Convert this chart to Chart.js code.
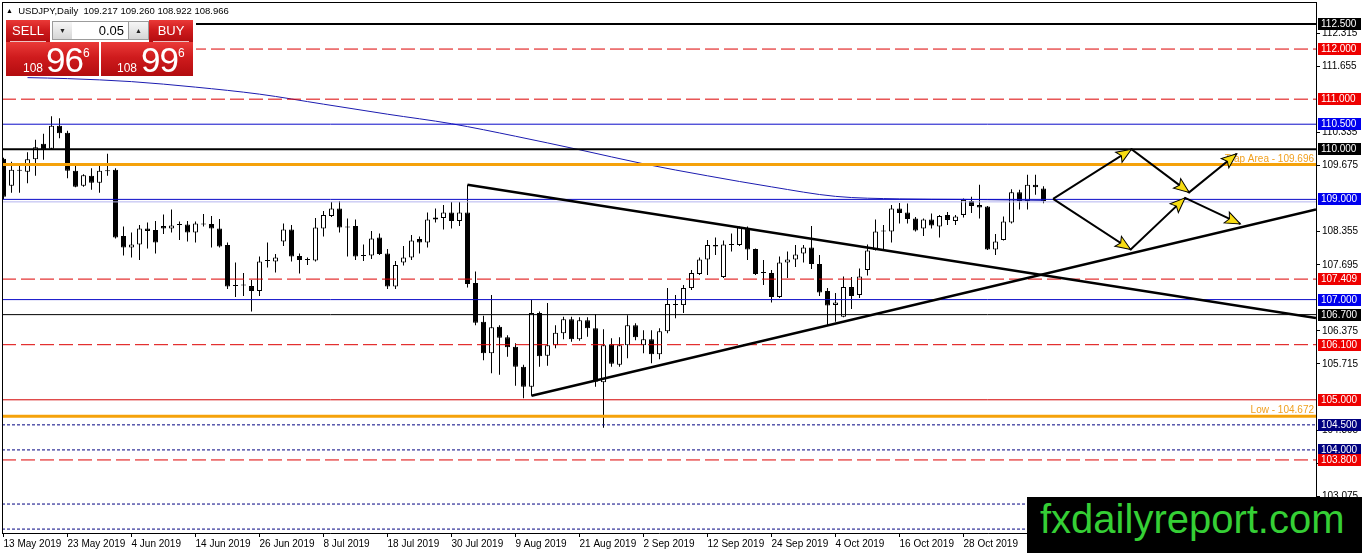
<!DOCTYPE html>
<html>
<head>
<meta charset="utf-8">
<title>USDJPY Daily</title>
<script src="https://cdn.jsdelivr.net/npm/chart.js@4.4.1/dist/chart.umd.min.js"></script>
<style>
  html, body { margin: 0; padding: 0; background: #fff; overflow: hidden; }
  #wrap { position: relative; width: 1362px; height: 553px; font-family: "Liberation Sans", Arial, sans-serif; }
  #c { position: absolute; left: 0; top: 0; }
  #panelBg { position: absolute; left: 3px; top: 17px; width: 193px; height: 60px; background: #fff; }
  #title { position: absolute; left: 6px; top: 6px; font-size: 9.5px; line-height: 10px; white-space: pre; color: #000; }
  #title .tri { font-size: 7px; position: relative; top: -1px; }
  .red { background: linear-gradient(to bottom, #ea3a38 0%, #cf1b1d 45%, #b20c0f 100%); color: #fff; position: absolute; }
  .hdr { height: 22px; line-height: 21px; text-align: center; font-size: 13px; }
  .hdr .sep { position: absolute; left: 4px; right: 4px; bottom: 0; height: 1px; background: rgba(255,255,255,0.75); }
  #sellHdr { left: 6px; top: 20px; width: 44px; }
  #buyHdr { left: 149px; top: 20px; width: 44px; }
  .btn { position: absolute; top: 21px; width: 19px; height: 17px; border: 1px solid #9c9c9c;
         background: linear-gradient(to bottom, #f6f6f6, #d6d6d6); font-size: 7px; line-height: 17px; text-align: center; color: #222; }
  #lotDown { left: 52px; }
  #lotUp { left: 128px; }
  #lot { position: absolute; left: 72px; top: 21px; width: 52px; height: 17px; border-top: 1px solid #9c9c9c; border-bottom: 1px solid #9c9c9c;
         background: #fff; font-size: 13px; line-height: 18px; text-align: right; padding-right: 4px; color: #000; }
  .px { top: 42px; height: 34px; }
  #sellPx { left: 6px; width: 93px; }
  #buyPx { left: 101px; width: 92px; }
  .px span { position: absolute; white-space: pre; }
  .p3 { font-size: 12px; line-height: 12px; top: 20px; }
  .p2 { font-size: 35px; line-height: 35px; top: 0px; letter-spacing: -1px; }
  .p1 { font-size: 12px; line-height: 12px; top: 5px; }
  #brand { position: absolute; left: 1027px; top: 497px; width: 335px; height: 56px; background: #000; }
  #brand span { position: absolute; left: 13px; top: 2px; font-size: 40px; line-height: 40px; color: #35cf35; white-space: pre; }
</style>
</head>
<body>
<div id="wrap">
  <canvas id="c" width="1362" height="553"></canvas>
  <div id="panelBg"></div>
  <div id="title"><span class="tri">&#9650;</span>  USDJPY,Daily  109.217 109.260 108.922 108.966</div>
  <div class="red hdr" id="sellHdr">SELL<div class="sep"></div></div>
  <div class="btn" id="lotDown">&#9660;</div>
  <div id="lot">0.05</div>
  <div class="btn" id="lotUp">&#9650;</div>
  <div class="red hdr" id="buyHdr">BUY<div class="sep"></div></div>
  <div class="red px" id="sellPx"><span class="p3" style="left:17px">108</span><span class="p2" style="left:40px">96</span><span class="p1" style="left:77px">6</span></div>
  <div class="red px" id="buyPx"><span class="p3" style="left:16px">108</span><span class="p2" style="left:40px">99</span><span class="p1" style="left:77px">6</span></div>
  <div id="brand"><span>fxdailyreport.com</span></div>
</div>
<script>
// daily candles, 13 May 2019 .. 11 Nov 2019 (one per weekday)
var opens = [
  109.81, 109.27, 109.59, 109.55, 109.80, 110.11, 110.01, 110.47, 110.33, 109.57,
  109.27, 109.47, 109.33, 109.58, 109.59, 108.27, 108.04, 108.10, 108.42, 108.39,
  108.47, 108.42, 108.50, 108.50, 108.34, 108.51, 108.51, 108.42, 108.09, 107.28,
  107.28, 107.27, 107.17, 107.77, 107.76, 108.16, 108.40, 107.87, 107.79, 107.78,
  108.42, 108.67, 108.82, 108.45, 108.47, 107.87, 107.88, 108.24, 107.92, 107.26,
  107.74, 107.84, 108.21, 108.14, 108.60, 108.63, 108.74, 108.57, 108.74, 107.33,
  106.56, 105.93, 106.46, 106.25, 106.06, 105.66, 105.26, 106.73, 105.88, 106.09,
  106.33, 106.61, 106.21, 106.59, 106.43, 105.35, 106.11, 105.70, 106.09, 106.49,
  106.09, 106.21, 105.91, 106.37, 106.90, 106.89, 107.23, 107.51, 107.80, 108.09,
  107.45, 108.09, 108.09, 108.42, 108.01, 107.54, 107.53, 107.05, 107.74, 107.80,
  107.92, 108.04, 107.71, 107.17, 106.89, 106.66, 107.25, 107.09, 107.59, 107.99,
  108.36, 108.36, 108.82, 108.74, 108.62, 108.42, 108.60, 108.46, 108.69, 108.57,
  108.69, 108.97, 108.89, 108.86, 108.00, 108.19, 108.54, 109.14, 108.97, 109.29,
  109.217
];
var highs = [
  109.83, 109.75, 109.71, 109.94, 110.19, 110.31, 110.66, 110.62, 110.37, 109.72,
  109.50, 109.62, 109.69, 109.91, 109.62, 108.46, 108.34, 108.49, 108.54, 108.57,
  108.70, 108.80, 108.56, 108.57, 108.56, 108.71, 108.67, 108.61, 108.14, 107.74,
  107.53, 107.39, 107.86, 108.14, 107.91, 108.52, 108.49, 107.92, 107.84, 108.63,
  108.77, 108.95, 108.97, 108.62, 108.60, 108.10, 108.37, 108.32, 108.01, 107.77,
  108.07, 108.29, 108.26, 108.74, 108.82, 108.89, 108.95, 108.95, 109.29, 107.56,
  106.68, 107.09, 106.49, 106.29, 106.13, 105.70, 106.99, 106.76, 106.93, 106.49,
  106.66, 106.66, 106.65, 106.65, 106.71, 106.41, 106.23, 106.25, 106.69, 106.53,
  106.39, 106.39, 106.43, 107.23, 107.09, 107.29, 107.59, 107.84, 108.19, 108.24,
  108.18, 108.32, 108.46, 108.46, 108.02, 107.79, 107.59, 107.86, 107.96, 108.09,
  108.09, 108.47, 107.89, 107.23, 107.13, 107.46, 107.45, 107.62, 108.10, 108.60,
  108.49, 108.89, 108.93, 108.92, 108.65, 108.62, 108.72, 108.69, 108.75, 108.69,
  109.02, 109.05, 109.29, 108.87, 108.31, 108.66, 109.20, 109.19, 109.49, 109.49,
  109.260
];
var lows = [
  109.01, 109.13, 109.13, 109.32, 109.47, 109.79, 110.00, 110.22, 109.42, 109.24,
  109.25, 109.19, 109.13, 109.47, 108.22, 107.88, 107.84, 107.79, 108.02, 107.92,
  108.31, 108.34, 108.19, 108.16, 108.14, 108.46, 108.04, 108.04, 107.21, 107.05,
  107.07, 106.76, 107.07, 107.64, 107.54, 108.07, 107.76, 107.52, 107.69, 107.76,
  108.26, 108.65, 108.34, 107.86, 107.79, 107.77, 107.81, 107.89, 107.21, 107.21,
  107.68, 107.79, 107.92, 108.04, 108.54, 108.40, 108.42, 108.47, 107.24, 106.49,
  105.79, 105.53, 105.50, 105.86, 105.28, 105.03, 105.08, 105.66, 105.68, 106.03,
  106.21, 106.16, 106.18, 106.26, 105.26, 104.44, 105.66, 105.66, 105.83, 106.19,
  105.93, 105.73, 105.81, 106.33, 106.63, 106.73, 107.19, 107.49, 107.49, 107.89,
  107.43, 107.96, 108.07, 107.79, 107.49, 107.29, 106.94, 107.03, 107.43, 107.65,
  107.74, 107.61, 107.07, 106.49, 106.56, 106.65, 106.81, 107.03, 107.48, 107.98,
  107.99, 108.14, 108.52, 108.52, 108.36, 108.27, 108.42, 108.24, 108.49, 108.49,
  108.64, 108.73, 108.62, 107.99, 107.89, 108.18, 108.52, 108.80, 108.80, 109.09,
  108.922
];
var closes = [
  109.05, 109.59, 109.57, 109.80, 110.04, 110.00, 110.47, 110.32, 109.57, 109.25,
  109.48, 109.33, 109.57, 109.56, 108.24, 108.04, 108.10, 108.42, 108.37, 108.14,
  108.42, 108.48, 108.49, 108.34, 108.52, 108.50, 108.42, 108.06, 107.26, 107.27,
  107.28, 107.17, 107.76, 107.78, 107.84, 108.40, 107.86, 107.79, 107.80, 108.44,
  108.69, 108.82, 108.44, 108.44, 107.86, 107.88, 108.22, 107.91, 107.26, 107.69,
  107.84, 108.18, 108.14, 108.60, 108.64, 108.74, 108.57, 108.74, 107.31, 106.54,
  105.93, 106.45, 106.24, 106.05, 105.66, 105.26, 106.73, 105.87, 106.09, 106.34,
  106.61, 106.21, 106.59, 106.43, 105.36, 106.09, 105.72, 106.09, 106.49, 106.25,
  106.21, 105.91, 106.37, 106.91, 106.89, 107.23, 107.53, 107.80, 108.09, 108.06,
  108.10, 108.10, 108.44, 108.00, 107.51, 107.53, 107.05, 107.74, 107.80, 107.90,
  108.04, 107.71, 107.14, 106.88, 106.94, 107.25, 107.07, 107.46, 107.98, 108.36,
  108.37, 108.82, 108.73, 108.61, 108.38, 108.60, 108.48, 108.67, 108.59, 108.66,
  108.99, 108.87, 108.84, 108.00, 108.16, 108.56, 109.14, 108.97, 109.29, 109.24,
  108.966
];

// time axis labels (every 8th bar)
var dateTickBars = [0, 8, 16, 24, 32, 40, 48, 56, 64, 72, 80, 88, 96, 104, 112, 120];
var dateLabels = ['13 May 2019', '23 May 2019', '4 Jun 2019', '14 Jun 2019', '26 Jun 2019', '8 Jul 2019',
                  '18 Jul 2019', '30 Jul 2019', '9 Aug 2019', '21 Aug 2019', '2 Sep 2019', '12 Sep 2019',
                  '24 Sep 2019', '4 Oct 2019', '16 Oct 2019', '28 Oct 2019'];

// price axis ticks (the ones hidden behind tags are left out)
var priceTicks = [112.315, 111.655, 110.335, 109.675, 108.355, 107.695,
                  106.375, 105.715, 104.395, 103.735, 103.075];

// moving average (read at a few bars)
var maBars = [3, 8, 16, 24, 32, 40, 48, 56, 64, 72, 80, 88, 96, 104, 112, 120, 130];
var maValues = [111.43, 111.41, 111.35, 111.24, 111.10, 110.90, 110.70, 110.51, 110.26,
                109.99, 109.71, 109.47, 109.25, 109.06, 109.01, 109.00, 108.98];

// horizontal levels
var levels = [112.5, 112.0, 111.0, 110.5, 110.0, 109.696, 109.0, 108.95, 107.409, 107.0,
              106.7, 106.1, 105.0, 104.672, 104.5, 104.0, 103.8, 102.92, 102.42];
var levelKinds = ['black2', 'redDash', 'redDash', 'blue', 'black2', 'orange', 'blue', 'lavender', 'redDash', 'blue',
                  'black1', 'redDash', 'red', 'orange', 'navyDot', 'navyDot', 'redDash', 'navyDot', 'navyDot'];

// coloured price tags on the right axis
var tagLevels = [112.5, 112.0, 111.0, 110.5, 110.0, 109.0, 107.409, 107.0, 106.7, 106.1, 105.0, 104.5, 104.0, 103.8];
var tagKinds = ['black', 'red', 'red', 'blue', 'black', 'blue', 'red', 'blue', 'black', 'red', 'red', 'navy', 'navy', 'red'];

// trend lines (bar index, price)
var downTrendBars = [58, 164.06];
var downTrendPrices = [109.29, 106.63];
var upTrendBars = [66, 164.06];
var upTrendPrices = [105.08, 108.80];

// scenario arrows
var arrowUpBars = [131.2, 141.0, 148.2, 154.15];
var arrowUpPrices = [109.01, 110.00, 109.14, 109.91];
var arrowDownBars = [131.2, 140.9, 147.7, 154.6];
var arrowDownPrices = [109.01, 108.00, 109.03, 108.51];

// text notes
var noteTexts = ['Trap Area - 109.696', 'Low - 104.672'];
var notePrices = [109.696, 104.672];

var xMin = -0.1875, xMax = 164.0625;
var yMin = 102.342, yMax = 112.939;

var levelStyle = {
  black2:   { color: '#000000', width: 2, dash: [] },
  black1:   { color: '#000000', width: 1, dash: [] },
  redDash:  { color: '#dd0000', width: 1, dash: [14, 5] },
  red:      { color: '#d40000', width: 1, dash: [] },
  blue:     { color: '#0a0ac8', width: 1, dash: [] },
  lavender: { color: '#b4b4ee', width: 1, dash: [] },
  orange:   { color: '#f5a20a', width: 3, dash: [] },
  navyDot:  { color: '#000080', width: 1, dash: [3, 2] }
};
var tagColor = { black: '#000000', red: '#ee0000', blue: '#0000ee', navy: '#000080' };

function pairs(xs, ys) {
  return xs.map(function (x, i) { return { x: x, y: ys[i] }; });
}

var barIdx = opens.map(function (_, i) { return i; });
var datasets = [];

datasets.push({
  type: 'bar',
  data: barIdx.map(function (i) { return { x: i, y: [lows[i], highs[i]] }; }),
  backgroundColor: '#000',
  borderWidth: 0,
  maxBarThickness: 1,
  grouped: false,
  inflateAmount: 0,
  order: 11
});
datasets.push({
  type: 'bar',
  data: barIdx.map(function (i) { return { x: i, y: [opens[i], closes[i]] }; }),
  backgroundColor: function (ctx) {
    var i = ctx.dataIndex;
    return closes[i] > opens[i] + 0.005 ? '#fff' : '#000';
  },
  borderColor: '#000',
  borderWidth: 1,
  borderSkipped: false,
  maxBarThickness: 5,
  minBarLength: 1,
  grouped: false,
  inflateAmount: 0,
  order: 10
});

levels.forEach(function (v, i) {
  var s = levelStyle[levelKinds[i]];
  datasets.push({
    type: 'line',
    data: [{ x: xMin, y: v }, { x: xMax, y: v }],
    borderColor: s.color,
    borderWidth: s.width,
    borderDash: s.dash,
    pointRadius: 0,
    order: 5
  });
});

datasets.push({
  type: 'line',
  data: pairs(maBars, maValues),
  borderColor: '#1c1cb0',
  borderWidth: 1,
  pointRadius: 0,
  cubicInterpolationMode: 'monotone',
  order: 6
});

[[downTrendBars, downTrendPrices], [upTrendBars, upTrendPrices]].forEach(function (t) {
  datasets.push({
    type: 'line',
    data: pairs(t[0], t[1]),
    borderColor: '#000',
    borderWidth: 2.5,
    pointRadius: 0,
    order: 3
  });
});

[[arrowUpBars, arrowUpPrices], [arrowDownBars, arrowDownPrices]].forEach(function (a) {
  datasets.push({
    type: 'line',
    data: pairs(a[0], a[1]),
    borderColor: '#000',
    borderWidth: 2,
    pointRadius: 0,
    arrowPath: true,
    order: 1
  });
});

var notesPlugin = {
  id: 'notes',
  beforeDatasetsDraw: function (chart) {
    var ctx = chart.ctx, y = chart.scales.y, area = chart.chartArea;
    ctx.save();
    ctx.font = '10px "Liberation Sans", Arial, sans-serif';
    ctx.fillStyle = '#f0a020';
    ctx.textAlign = 'right';
    ctx.textBaseline = 'alphabetic';
    noteTexts.forEach(function (t, i) {
      ctx.fillText(t, area.right - 2, y.getPixelForValue(notePrices[i]) - 3);
    });
    ctx.restore();
  }
};

var arrowHeadPlugin = {
  id: 'arrowHeads',
  afterDatasetsDraw: function (chart) {
    var ctx = chart.ctx;
    chart.data.datasets.forEach(function (ds, di) {
      if (!ds.arrowPath) return;
      var pts = chart.getDatasetMeta(di).data;
      for (var j = 1; j < pts.length; j++) {
        var a = pts[j - 1], b = pts[j];
        var ang = Math.atan2(b.y - a.y, b.x - a.x);
        ctx.save();
        ctx.translate(b.x, b.y);
        ctx.rotate(ang);
        ctx.beginPath();
        ctx.moveTo(0, 0);
        ctx.lineTo(-15, -6);
        ctx.lineTo(-12, 0);
        ctx.lineTo(-15, 6);
        ctx.closePath();
        ctx.fillStyle = '#f7dc12';
        ctx.fill();
        ctx.lineWidth = 1;
        ctx.strokeStyle = '#000';
        ctx.stroke();
        ctx.restore();
      }
    });
    // chart frame
    var area = chart.chartArea;
    ctx.save();
    ctx.fillStyle = '#000';
    ctx.fillRect(area.left, area.top, area.right - area.left, 1);
    ctx.fillRect(area.left, area.top, 1, area.bottom - area.top);
    ctx.restore();
  }
};

var tagPlugin = {
  id: 'priceTags',
  afterDraw: function (chart) {
    var ctx = chart.ctx, y = chart.scales.y;
    ctx.save();
    ctx.font = '10px "Liberation Sans", Arial, sans-serif';
    ctx.textBaseline = 'middle';
    ctx.textAlign = 'left';
    tagLevels.forEach(function (v, i) {
      var py = Math.round(y.getPixelForValue(v));
      ctx.fillStyle = tagColor[tagKinds[i]];
      ctx.fillRect(y.left + 2, py - 6, 43, 12);
      ctx.fillStyle = '#fff';
      ctx.fillText(v.toFixed(3), y.left + 5, py + 0.5);
    });
    ctx.restore();
  }
};

Chart.defaults.font.family = '"Liberation Sans", Arial, sans-serif';
Chart.defaults.font.size = 10;
Chart.defaults.color = '#000';

new Chart(document.getElementById('c').getContext('2d'), {
  type: 'bar',
  data: { datasets: datasets },
  options: {
    responsive: false,
    devicePixelRatio: 1,
    animation: false,
    events: [],
    layout: { padding: { left: 2, top: 2, right: 0, bottom: 0 } },
    plugins: { legend: { display: false }, tooltip: { enabled: false } },
    scales: {
      x: {
        type: 'linear',
        min: xMin,
        max: xMax,
        offset: false,
        afterBuildTicks: function (s) { s.ticks = dateTickBars.map(function (v) { return { value: v }; }); },
        afterFit: function (s) { s.height = 20; s.paddingLeft = 0; s.paddingRight = 0; },
        ticks: {
          autoSkip: false,
          maxRotation: 0,
          align: 'start',
          padding: 1,
          callback: function (v, i) { return dateLabels[i]; }
        },
        grid: { drawOnChartArea: false, drawTicks: true, tickLength: 4, color: '#000', offset: false },
        border: { display: true, color: '#000' }
      },
      y: {
        type: 'linear',
        position: 'right',
        min: yMin,
        max: yMax,
        beginAtZero: false,
        afterBuildTicks: function (s) { s.ticks = priceTicks.map(function (v) { return { value: v }; }); },
        afterFit: function (s) { s.width = 46; s.paddingTop = 0; s.paddingBottom = 0; },
        ticks: { padding: 2, callback: function (v) { return v.toFixed(3); } },
        grid: { drawOnChartArea: false, drawTicks: true, tickLength: 4, color: '#000' },
        border: { display: true, color: '#000' }
      }
    }
  },
  plugins: [notesPlugin, arrowHeadPlugin, tagPlugin]
});
</script>
</body>
</html>
